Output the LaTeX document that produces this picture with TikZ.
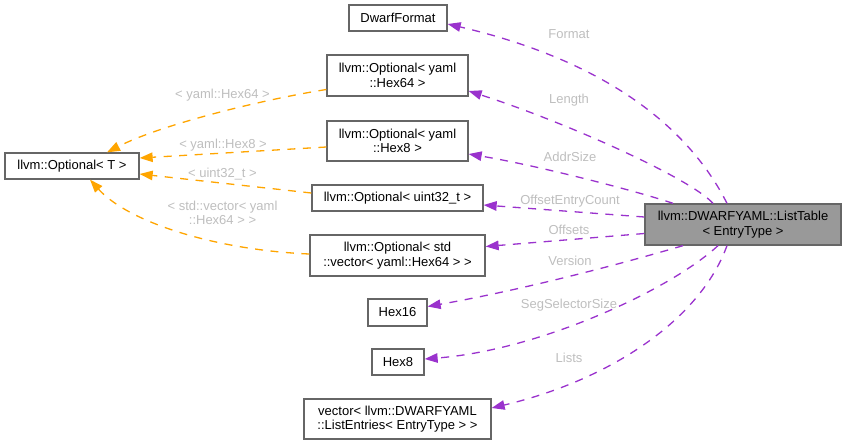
\documentclass[tikz,border=0pt]{standalone}
\usepackage{fontspec}
\setmainfont{Liberation Sans}
\usetikzlibrary{arrows.meta}
\definecolor{memc}{HTML}{9A32CD}
\definecolor{tmplc}{HTML}{FFA500}
\definecolor{lblc}{HTML}{BEBEBE}
\definecolor{bordc}{HTML}{666666}
\definecolor{fillg}{HTML}{999999}
\begin{document}
\begin{tikzpicture}[x=1pt,y=-1pt,
  box/.style={draw=bordc, line width=1.3pt, fill=white, inner sep=0pt, align=center,
    font=\fontsize{13}{14.5}\selectfont},
  mainbox/.style={box, fill=fillg},
  memedge/.style={draw=memc, line width=1.3pt, dash pattern=on 8pt off 7.5pt,
    -{Triangle[length=13pt,width=9.5pt]}},
  tmpledge/.style={draw=tmplc, line width=1.3pt, dash pattern=on 8pt off 7.5pt,
    -{Triangle[length=13pt,width=9.5pt]}},
  elabel/.style={text=lblc, inner sep=0pt, align=center, font=\fontsize{13}{14.5}\selectfont}
]
\useasboundingbox (0,0) rectangle (847,445);

% nodes
\node[mainbox, minimum width=196pt, minimum height=41pt] (lt) at (743,224.5) {llvm::DWARFYAML::ListTable\\< EntryType >};
\node[box, minimum width=98pt, minimum height=26pt] (fmt) at (398,18) {DwarfFormat};
\node[box, minimum width=141pt, minimum height=41pt] (h64) at (397.5,75.5) {llvm::Optional< yaml\\::Hex64 >};
\node[box, minimum width=141pt, minimum height=40pt] (h8) at (397.5,141) {llvm::Optional< yaml\\::Hex8 >};
\node[box, minimum width=171pt, minimum height=26pt] (u32) at (397.5,198) {llvm::Optional< uint32\_t >};
\node[box, minimum width=175pt, minimum height=41pt] (vec) at (397.5,255.5) {llvm::Optional< std\\::vector< yaml::Hex64 > >};
\node[box, minimum width=59pt, minimum height=27pt] (x16) at (397.5,312.5) {Hex16};
\node[box, minimum width=52pt, minimum height=26pt] (x8) at (398,362) {Hex8};
\node[box, minimum width=187pt, minimum height=40pt] (lst) at (397.5,419) {vector< llvm::DWARFYAML\\::ListEntries< EntryType > >};
\node[box, minimum width=134pt, minimum height=26pt] (opt) at (72,166) {llvm::Optional< T >};

% member edges
\draw[memedge] ([xshift=-16pt]lt.north) .. controls (690,130) and (610,62) .. ([yshift=-6pt]fmt.east);
\draw[memedge] ([xshift=-30pt]lt.north) .. controls (690,178) and (565,122) .. ([yshift=-15.5pt]h64.east);
\draw[memedge] ([xshift=-70pt]lt.north) .. controls (640,192) and (540,166) .. ([yshift=-13pt]h8.east);
\draw[memedge] ([yshift=7.5pt]lt.west) -- ([yshift=-7pt]u32.east);
\draw[memedge] ([yshift=-9pt]lt.west) -- ([yshift=9pt]vec.east);
\draw[memedge] ([xshift=-60pt]lt.south) .. controls (600,270) and (510,292) .. ([yshift=6pt]x16.east);
\draw[memedge] ([xshift=-25pt]lt.south) .. controls (670,290) and (540,350) .. ([yshift=3pt]x8.east);
\draw[memedge] ([xshift=-16pt]lt.south) .. controls (700,320) and (610,380) .. ([yshift=11pt]lst.east);

% template edges
\draw[tmpledge] ([yshift=-14pt]h64.west) .. controls (260,100) and (160,125) .. ([xshift=35pt]opt.north);
\draw[tmpledge] ([yshift=-6pt]h8.west) -- ([yshift=8pt]opt.east);
\draw[tmpledge] ([yshift=5pt]u32.west) -- ([yshift=-8pt]opt.east);
\draw[tmpledge] ([yshift=1.5pt]vec.west) .. controls (215,250) and (128,222) .. ([xshift=18pt]opt.south);

% labels
\node[elabel] (lFormat) at (569,34) {Format};
\node[elabel] (lLength) at (569,100) {Length};
\node[elabel] (lAddr) at (570,157) {AddrSize};
\node[elabel] (lOEC) at (570,201.5) {OffsetEntryCount};
\node[elabel] (lOffsets) at (569,229.5) {Offsets};
\node[elabel] (lVersion) at (570,260.5) {Version};
\node[elabel] (lSeg) at (569,305) {SegSelectorSize};
\node[elabel] (lLists) at (569,358) {Lists};
\node[elabel] (lt64) at (222.5,95) {< yaml::Hex64 >};
\node[elabel] (lt8) at (223,145.5) {< yaml::Hex8 >};
\node[elabel] (lt32) at (222.5,174) {< uint32\_t >};
\node[elabel] (ltvec) at (222.5,213) {< std::vector< yaml\\::Hex64 > >};
\end{tikzpicture}
\end{document}
